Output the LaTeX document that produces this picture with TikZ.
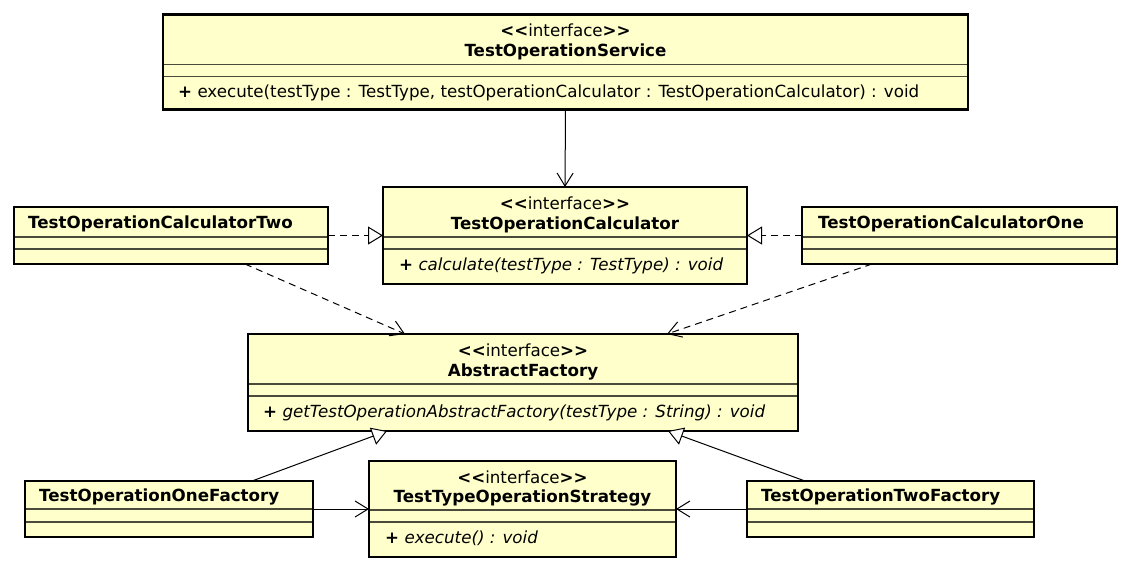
\documentclass[tikz,border=0pt]{standalone}
\usepackage{fontspec}
\setmainfont{DejaVu Sans}
\usetikzlibrary{arrows.meta,calc}
\definecolor{umlfill}{HTML}{FFFFCC}
\definecolor{sepcol}{HTML}{4A4A3A}
\newcommand{\stereo}{\textbf{<\kern0pt<}interface\textbf{>\kern0pt>}}
\begin{document}
\begin{tikzpicture}[x=1pt,y=-1pt,
  font=\fontsize{16.7}{19}\selectfont,
  box/.style={draw=black, line width=2.6pt, fill=umlfill, rectangle, inner sep=0pt, outer sep=0pt},
  sepline/.style={draw=sepcol, line width=1.1pt, shorten <=1.3pt, shorten >=1.3pt},
  ctxt/.style={inner sep=0pt, anchor=mid},
  ltxt/.style={inner sep=0pt, anchor=mid west},
  assoc/.style={draw=black, line width=1pt, -{Straight Barb[length=13pt,width=16pt,line width=1pt]}},
  dep/.style={assoc, dash pattern=on 7pt off 5pt},
  real/.style={draw=black, line width=1pt, dash pattern=on 7pt off 5pt, -{Triangle[length=15pt,width=18pt,fill=white,line width=1pt]}},
  gen/.style={draw=black, line width=1pt, -{Triangle[length=15pt,width=18pt,fill=white,line width=1pt]}}
]
\useasboundingbox (0,0) rectangle (1131,571);
\fill[white] (0,0) rectangle (1131,571);

% ---- boxes ----
\node[box, minimum width=805pt, minimum height=95pt] (svc) at (565.5,62) {};
\node[box, minimum width=364pt, minimum height=97pt] (calc) at (565,235.5) {};
\node[box, minimum width=314pt, minimum height=57pt] (c2) at (171,235.5) {};
\node[box, minimum width=315pt, minimum height=57pt] (c1) at (959.5,235.5) {};
\node[box, minimum width=550pt, minimum height=97pt] (af) at (523,382.5) {};
\node[box, minimum width=307pt, minimum height=96pt] (strat) at (522.5,509) {};
\node[box, minimum width=288pt, minimum height=56pt] (of) at (169,509) {};
\node[box, minimum width=287pt, minimum height=56pt] (tf) at (890.5,509) {};

% ---- separators ----
\foreach \b/\a/\c in {svc/50/62, calc/50/62, af/50/62, strat/49/61, c2/30/42, c1/30/42, of/28/41, tf/28/41}{
  \draw[sepline] ([yshift=-\a pt]\b.north west) -- ([yshift=-\a pt]\b.north east);
  \draw[sepline] ([yshift=-\c pt]\b.north west) -- ([yshift=-\c pt]\b.north east);
}

% ---- texts ----
\node[ctxt] (svc-st) at ([yshift=-19.5pt]svc.north) {\stereo};
\node[ctxt] (svc-nm) at ([yshift=-39.5pt]svc.north) {\textbf{TestOperationService}};
\node[ltxt] (svc-m) at ([xshift=15pt,yshift=-80.5pt]svc.north west) {\textbf{+} execute(testType : TestType, testOperationCalculator : TestOperationCalculator) : void};

\node[ctxt] (calc-st) at ([yshift=-19.5pt]calc.north) {\stereo};
\node[ctxt] (calc-nm) at ([yshift=-39.5pt]calc.north) {\textbf{TestOperationCalculator}};
\node[ltxt] (calc-m) at ([xshift=16pt,yshift=-81pt]calc.north west) {\textit{\textbf{+} calculate(testType : TestType) : void}};

\node[ltxt] (c2-nm) at ([xshift=14pt,yshift=-19pt]c2.north west) {\textbf{TestOperationCalculatorTwo}};
\node[ltxt] (c1-nm) at ([xshift=16pt,yshift=-19pt]c1.north west) {\textbf{TestOperationCalculatorOne}};

\node[ctxt] (af-st) at ([yshift=-20pt]af.north) {\stereo};
\node[ctxt] (af-nm) at ([yshift=-40pt]af.north) {\textbf{AbstractFactory}};
\node[ltxt] (af-m) at ([xshift=15pt,yshift=-81pt]af.north west) {\textit{\textbf{+} getTestOperationAbstractFactory(testType : String) : void}};

\node[ctxt] (strat-st) at ([yshift=-19.5pt]strat.north) {\stereo};
\node[ctxt] (strat-nm) at ([yshift=-38.5pt]strat.north) {\textbf{TestTypeOperationStrategy}};
\node[ltxt] (strat-m) at ([xshift=16pt,yshift=-80pt]strat.north west) {\textit{\textbf{+} execute() : void}};

\node[ltxt] (of-nm) at ([xshift=14pt,yshift=-18pt]of.north west) {\textbf{TestOperationOneFactory}};
\node[ltxt] (tf-nm) at ([xshift=14pt,yshift=-18pt]tf.north west) {\textbf{TestOperationTwoFactory}};

% ---- connectors ----
\draw[assoc] (svc.south) -- (calc.north);
\draw[real] (c2.east) -- (calc.west);
\draw[real] (c1.west) -- (calc.east);
\draw[dep] ([xshift=231pt]c2.south west) -- ([xshift=157pt]af.north west);
\draw[dep] ([xshift=70pt]c1.south west) -- ([xshift=419pt]af.north west);
\draw[gen] ([xshift=227pt]of.north west) -- ([xshift=139pt]af.south west);
\draw[gen] ([xshift=58pt]tf.north west) -- ([xshift=420pt]af.south west);
\draw[assoc] (of.east) -- (strat.west);
\draw[assoc] (tf.west) -- (strat.east);
\end{tikzpicture}
\end{document}
